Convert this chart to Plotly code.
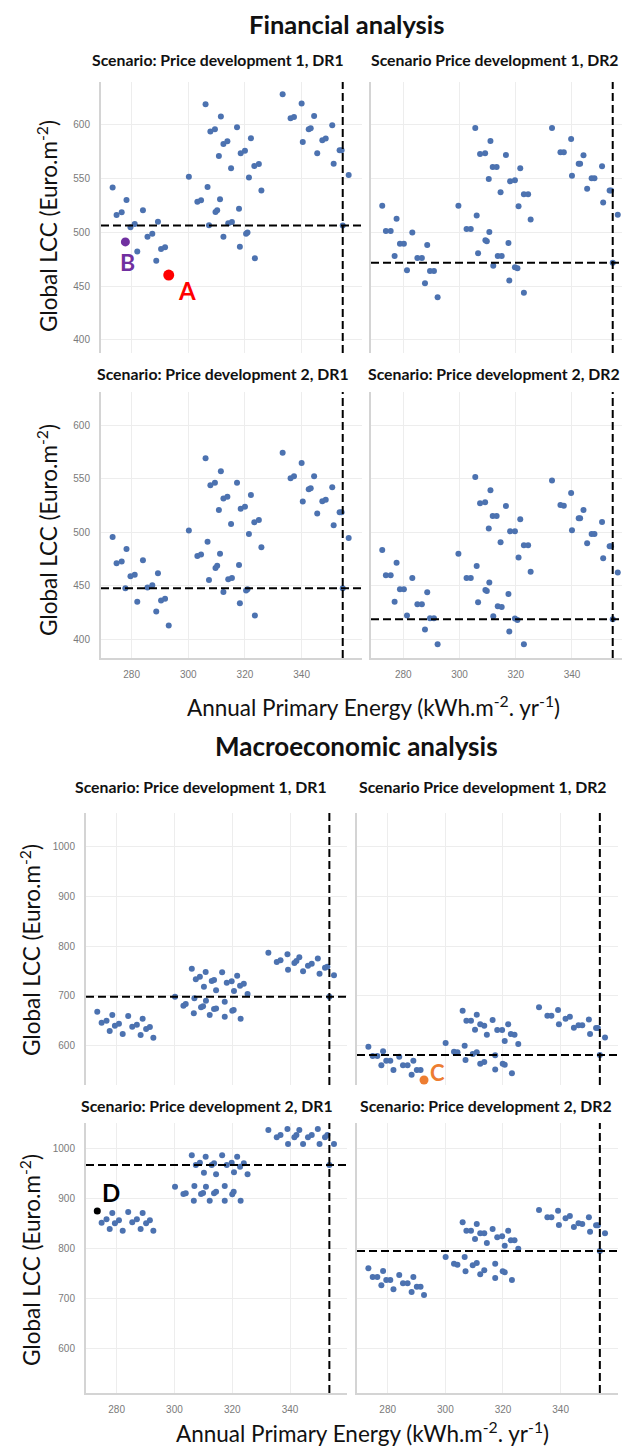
import plotly.graph_objects as go

W, H = 622, 1452

# ---------------- data ----------------
# Financial analysis, discount rate DR1: annual primary energy of each design
fin_energy_dr1 = [
    273.3, 274.7, 276.5, 278.2, 277.8, 279.6, 281.1, 282.0, 284.0, 285.6, 287.3, 288.7, 289.3, 290.4, 291.8, 293.1,
    300.2, 303.2, 304.5, 306.1, 306.8, 307.3, 307.8, 309.4, 309.6, 310.2, 310.8, 311.2, 311.5, 312.4, 312.4, 313.8,
    314.1, 315.1, 315.4, 317.2, 317.9, 318.2, 318.5, 320.0, 320.4, 320.9, 321.4, 322.1, 323.3, 323.5, 324.9, 325.8,
    333.3, 336.1, 337.3, 340.0, 340.4, 342.5, 343.2, 344.4, 345.5, 347.3, 348.5, 350.8, 351.3, 353.4, 354.1, 356.6,
]
fin_lcc_pd1_dr1 = [
    541.7, 516.2, 518.7, 530.2, 491.1, 504.7, 507.8, 482.1, 520.5, 496.0, 498.8, 473.7, 510.0, 484.5, 486.1, 460.3,
    551.9, 528.6, 529.9, 619.2, 542.3, 506.6, 593.8, 596.0, 519.0, 520.5, 571.1, 530.8, 607.8, 496.0, 582.3, 584.8,
    508.4, 559.7, 509.7, 597.8, 522.1, 486.7, 573.6, 576.1, 498.8, 499.8, 551.0, 587.6, 561.8, 475.9, 563.7, 538.9,
    628.6, 606.2, 607.4, 619.9, 584.2, 596.0, 596.9, 608.4, 573.6, 585.7, 587.3, 599.7, 564.0, 576.4, 576.4, 553.4,
]
fin_lcc_pd2_dr1 = [
    495.5, 470.9, 472.5, 484.3, 447.6, 458.8, 460.3, 435.1, 473.7, 448.2, 450.4, 425.8, 461.6, 436.1, 437.9, 412.8,
    501.4, 477.8, 479.0, 568.9, 491.1, 455.4, 543.7, 546.2, 466.6, 468.5, 520.7, 479.9, 556.8, 444.2, 531.3, 533.1,
    456.0, 507.6, 457.2, 546.2, 469.4, 433.6, 521.9, 523.8, 445.4, 446.7, 498.3, 534.7, 509.2, 422.1, 511.4, 485.8,
    574.2, 550.2, 552.1, 564.5, 528.5, 540.0, 540.9, 552.1, 517.3, 528.8, 530.3, 541.8, 506.4, 518.5, 518.5, 494.6,
]

# Financial analysis, discount rate DR2
fin_energy_dr2 = [
    272.5, 273.8, 275.5, 277.6, 276.9, 278.8, 280.2, 281.3, 283.2, 285.0, 286.6, 288.5, 287.7, 289.5, 290.9, 292.2,
    299.6, 302.5, 304.0, 305.6, 306.1, 306.6, 307.3, 309.1, 309.2, 309.7, 310.4, 310.6, 311.0, 311.8, 313.2, 312.0,
    313.6, 315.0, 314.6, 316.5, 317.4, 317.7, 318.0, 319.7, 319.7, 320.6, 321.0, 321.6, 322.9, 324.4, 322.9, 325.3,
    332.9, 335.9, 337.1, 339.7, 340.0, 342.4, 342.9, 344.1, 345.4, 347.0, 348.0, 350.7, 351.1, 353.4, 353.9, 356.3,
]
fin_lcc_pd1_dr2 = [
    524.9, 501.3, 501.3, 512.8, 478.0, 489.5, 489.5, 464.7, 499.8, 476.2, 476.2, 488.3, 452.6, 464.1, 464.1, 439.5,
    524.9, 503.2, 503.2, 597.2, 515.6, 480.5, 573.0, 573.6, 492.6, 491.7, 549.7, 500.4, 585.1, 560.9, 560.9, 469.0,
    478.0, 478.0, 537.3, 572.1, 490.1, 455.1, 547.5, 548.5, 467.5, 466.5, 524.3, 559.7, 535.4, 535.4, 443.9, 511.9,
    597.2, 574.5, 574.5, 587.0, 552.8, 564.0, 564.0, 571.8, 540.7, 550.3, 550.3, 561.5, 527.7, 538.9, 538.9, 516.5,
]
fin_lcc_pd2_dr2 = [
    483.4, 459.7, 459.7, 471.5, 435.1, 446.7, 446.7, 422.1, 457.2, 432.7, 432.7, 443.9, 409.0, 419.6, 419.6, 395.3,
    479.9, 457.2, 457.2, 551.5, 468.4, 434.5, 526.9, 527.8, 446.0, 445.1, 503.3, 452.9, 539.0, 515.1, 515.1, 421.5,
    430.8, 430.2, 490.5, 524.4, 442.3, 407.2, 500.8, 500.8, 419.3, 418.0, 476.2, 512.0, 487.7, 487.7, 395.3, 463.1,
    548.1, 525.3, 524.7, 536.5, 501.7, 512.9, 512.9, 520.7, 489.6, 498.3, 498.3, 509.5, 475.6, 486.8, 486.8, 462.2,
]

# Macroeconomic analysis, discount rate DR1
mac_energy_dr1 = [
    273.3, 274.8, 276.5, 277.6, 278.5, 279.4, 280.8, 282.1, 284.0, 285.4, 287.0, 288.3, 289.0, 290.2, 291.5, 292.7,
    300.2, 303.1, 303.9, 306.0, 306.7, 306.9, 307.4, 308.8, 309.2, 309.9, 310.2, 310.9, 310.8, 312.2, 312.9, 313.7,
    313.7, 314.4, 314.4, 316.5, 317.4, 317.4, 318.1, 319.8, 320.0, 320.5, 320.6, 321.7, 322.7, 322.9, 324.0, 325.3,
    332.5, 335.4, 336.7, 339.1, 339.3, 341.5, 342.2, 343.2, 344.5, 346.2, 347.5, 349.6, 350.2, 352.1, 352.9, 355.2,
]
mac_lcc_pd1_dr1 = [
    668.3, 646.2, 650.2, 629.5, 661.6, 640.2, 644.2, 623.5, 659.6, 638.2, 642.2, 621.4, 654.3, 633.5, 637.5, 616.1,
    698.5, 680.4, 683.8, 754.8, 665.0, 695.2, 733.3, 738.7, 677.1, 679.1, 718.6, 690.5, 748.1, 661.6, 730.0, 732.0,
    673.7, 711.2, 675.0, 747.4, 688.4, 658.3, 726.6, 729.3, 670.4, 671.7, 709.9, 740.7, 720.6, 654.3, 724.6, 703.9,
    786.9, 768.2, 771.5, 783.6, 752.8, 766.2, 770.2, 777.6, 749.4, 760.8, 764.8, 775.5, 744.7, 756.8, 758.8, 741.4,
]
mac_lcc_pd2_dr1 = [
    874.7, 851.3, 858.0, 838.7, 870.7, 850.0, 856.0, 835.3, 872.7, 852.0, 858.0, 838.7, 870.7, 850.0, 856.0, 835.3,
    923.3, 908.7, 910.0, 986.0, 895.3, 924.7, 966.7, 971.3, 908.7, 910.5, 951.3, 923.3, 983.3, 895.3, 966.7, 970.0,
    910.0, 948.0, 913.3, 986.0, 924.7, 895.3, 966.7, 971.3, 908.0, 913.3, 952.0, 983.3, 963.3, 895.3, 970.0, 948.0,
    1036.7, 1022.0, 1026.7, 1038.7, 1008.7, 1022.0, 1026.7, 1036.7, 1008.7, 1022.0, 1026.7, 1038.7, 1008.7, 1022.0, 1026.7, 1008.7,
]

# Macroeconomic analysis, discount rate DR2
mac_energy_dr2 = [
    273.3, 274.8, 276.4, 278.4, 277.8, 279.5, 280.9, 282.0, 284.0, 285.3, 286.9, 288.9, 288.3, 290.1, 291.4, 292.6,
    300.1, 303.0, 304.2, 306.0, 306.7, 307.0, 307.3, 308.9, 309.5, 310.9, 310.3, 312.1, 310.9, 312.1, 313.5,
    313.5, 314.4, 316.4, 317.3, 317.3, 318.0, 319.7, 319.9, 320.6, 320.6, 321.8, 322.7, 323.1, 324.0, 325.3,
    332.5, 335.4, 336.8, 339.1, 339.4, 341.7, 343.2, 344.6, 346.2, 347.5, 349.8, 350.2, 352.3, 352.9, 355.4,
]
mac_lcc_pd1_dr2 = [
    598.0, 579.2, 579.2, 588.6, 560.5, 569.9, 569.9, 551.1, 577.9, 560.5, 560.5, 569.9, 541.7, 551.1, 551.1, 531.0,
    605.4, 587.9, 586.6, 670.4, 600.0, 571.2, 650.3, 650.3, 583.3, 586.6, 632.2, 563.8, 662.4, 642.9, 640.2,
    567.2, 622.1, 651.6, 580.6, 552.4, 631.5, 631.5, 563.8, 561.8, 609.6, 642.9, 623.4, 544.4, 622.1, 603.3,
    677.1, 660.3, 660.3, 671.7, 642.9, 654.3, 658.3, 636.2, 640.9, 640.9, 652.9, 623.4, 635.5, 635.5, 616.7,
]
mac_lcc_pd2_dr2 = [
    760.0, 742.7, 742.7, 754.7, 726.0, 736.7, 736.7, 718.0, 746.7, 730.0, 730.0, 742.7, 712.7, 723.3, 723.3, 706.7,
    782.7, 769.3, 767.3, 852.0, 782.7, 754.0, 835.3, 835.3, 766.0, 770.7, 818.7, 748.0, 848.7, 830.0, 830.0,
    756.0, 810.7, 838.7, 769.3, 740.7, 822.0, 824.0, 754.0, 752.0, 805.3, 835.3, 816.0, 736.7, 816.0, 799.3,
    876.7, 862.0, 862.0, 875.3, 846.7, 860.0, 864.7, 842.7, 850.0, 848.7, 862.0, 833.3, 846.0, 846.0, 830.0,
]

# Reference building (dashed cross-hair) for panels 1..8
ref_energy = [354.5, 354.5, 354.5, 354.5, 353.6, 353.6, 353.6, 353.6]
ref_lcc = [506.3, 471.8, 447.6, 418.7, 698.5, 581.2, 966.7, 794.7]

# Highlighted designs: panel, index into that panel's series, label
highlight_panel = [1, 1, 6, 7]
highlight_index = [15, 4, 15, 0]
highlight_label = ["A", "B", "C", "D"]

panel_titles = [
    "Scenario: Price development 1, DR1", "Scenario Price development 1, DR2",
    "Scenario: Price development 2, DR1", "Scenario: Price development 2, DR2",
    "Scenario: Price development 1, DR1", "Scenario Price development 1, DR2",
    "Scenario: Price development 2, DR1", "Scenario: Price development 2, DR2",
]
fin_yticks = [400, 450, 500, 550, 600]
mac_yticks = [600, 700, 800, 900, 1000]
x_ticks = [280, 300, 320, 340]

section_titles = ["Financial analysis", "Macroeconomic analysis"]
y_title = "Global LCC (Euro.m<sup>-2</sup>)"
x_title = "Annual Primary Energy (kWh.m<sup>-2</sup>. yr<sup>-1</sup>)"

series = [
    (fin_energy_dr1, fin_lcc_pd1_dr1), (fin_energy_dr2, fin_lcc_pd1_dr2),
    (fin_energy_dr1, fin_lcc_pd2_dr1), (fin_energy_dr2, fin_lcc_pd2_dr2),
    (mac_energy_dr1, mac_lcc_pd1_dr1), (mac_energy_dr2, mac_lcc_pd1_dr2),
    (mac_energy_dr1, mac_lcc_pd2_dr1), (mac_energy_dr2, mac_lcc_pd2_dr2),
]

# ---------------- layout of the eight panels (pixel boxes) ----------------
# (left, right, top, bottom), x range, y range, y ticks, show y labels, show x labels, title centre
panel_layout = [
    ((101, 362, 82, 353), [269.2, 361.3], [387.7, 640.0], fin_yticks, True, False, (218, 60)),
    ((371, 622, 82, 353), [268.5, 357.8], [387.7, 640.0], fin_yticks, False, False, (495, 60)),
    ((101, 362, 392, 658), [269.2, 361.3], [382.5, 630.8], fin_yticks, True, True, (223, 373)),
    ((371, 622, 392, 658), [268.5, 357.8], [382.5, 630.8], fin_yticks, False, True, (494, 373)),
    ((86, 347, 813, 1085), [269.4, 359.7], [521.0, 1067.7], mac_yticks, True, False, (201, 787)),
    ((357, 618, 813, 1085), [269.35, 359.9], [521.0, 1067.7], mac_yticks, False, False, (483, 787)),
    ((86, 347, 1123, 1393), [269.4, 359.7], [510.6, 1050.6], mac_yticks, True, True, (207, 1105)),
    ((357, 618, 1123, 1393), [269.35, 359.9], [510.6, 1050.6], mac_yticks, False, True, (486, 1105)),
]

highlight_style = {
    "A": dict(color="#ff0000", size=11, font=24, shift=(18, -15)),
    "B": dict(color="#7030a0", size=9, font=23, shift=(2, -20)),
    "C": dict(color="#ed7d31", size=9, font=22, shift=(13, 8)),
    "D": dict(color="#000000", size=7, font=24, shift=(14, 18)),
}

DOT = "#4c72b0"
TXT = "#111111"
FONT = "Lato, 'Open Sans', sans-serif"


def px_x(p):
    return p / W


def px_y(p):
    return 1 - p / H


def axis_ids(i):
    suffix = "" if i == 1 else str(i)
    return "x" + suffix, "y" + suffix, suffix


fig = go.Figure()
annotations = []
shapes = []
layout_axes = {}

for i, ((x_vals, y_vals), cfg) in enumerate(zip(series, panel_layout), start=1):
    (l, r, t, b), xr, yr, yt, show_y, show_x, (tx, ty) = cfg
    xa, ya, key = axis_ids(i)
    fig.add_trace(go.Scatter(
        x=x_vals, y=y_vals, mode="markers", xaxis=xa, yaxis=ya,
        marker=dict(color=DOT, size=6, line=dict(width=0)), showlegend=False,
        hoverinfo="x+y",
    ))
    # reference building
    fig.add_trace(go.Scatter(
        x=[ref_energy[i - 1]], y=[ref_lcc[i - 1]], mode="markers", xaxis=xa, yaxis=ya,
        marker=dict(color=DOT, size=6), showlegend=False,
    ))
    layout_axes[f"xaxis{key}"] = dict(
        domain=[px_x(l), px_x(r)], range=xr, anchor=ya,
        tickvals=x_ticks, showticklabels=show_x, ticks="",
        tickfont=dict(family="Liberation Sans, Arial", size=10, color="#7a7a7a"),
        ticklabelstandoff=6,
        showgrid=True, gridcolor="#ededed", gridwidth=1, zeroline=False,
        showline=show_x, linecolor="#d4d4d4", linewidth=2,
    )
    layout_axes[f"yaxis{key}"] = dict(
        domain=[px_y(b), px_y(t)], range=yr, anchor=xa,
        tickvals=yt, showticklabels=show_y, ticks="",
        tickfont=dict(family="Liberation Sans, Arial", size=10, color="#7a7a7a"),
        ticklabelstandoff=7,
        showgrid=True, gridcolor="#ededed", gridwidth=1, zeroline=False,
        showline=True, linecolor="#d4d4d4", linewidth=2,
    )
    # dashed cross-hair through the reference building
    dash_line = dict(color="black", width=2, dash="8px,4px")
    shapes.append(dict(type="line", xref=xa, yref=f"{ya} domain",
                       x0=ref_energy[i - 1], x1=ref_energy[i - 1], y0=0, y1=1, line=dash_line))
    shapes.append(dict(type="line", xref=f"{xa} domain", yref=ya,
                       x0=0, x1=1, y0=ref_lcc[i - 1], y1=ref_lcc[i - 1], line=dash_line))
    annotations.append(dict(
        text=f"<b>{panel_titles[i - 1]}</b>", xref="paper", yref="paper",
        x=px_x(tx), y=px_y(ty), xanchor="center", yanchor="middle", showarrow=False,
        font=dict(family=FONT, size=15.8, color=TXT),
    ))

# highlighted designs, drawn from the series values
for p, idx, lab in zip(highlight_panel, highlight_index, highlight_label):
    x_vals, y_vals = series[p - 1]
    xa, ya, _ = axis_ids(p)
    st = highlight_style[lab]
    fig.add_trace(go.Scatter(
        x=[x_vals[idx]], y=[y_vals[idx]], mode="markers", xaxis=xa, yaxis=ya,
        marker=dict(color=st["color"], size=st["size"]), showlegend=False,
    ))
    annotations.append(dict(
        text=f"<b>{lab}</b>", xref=xa, yref=ya, x=x_vals[idx], y=y_vals[idx],
        xshift=st["shift"][0], yshift=st["shift"][1], showarrow=False,
        xanchor="center", yanchor="middle",
        font=dict(family=FONT, size=st["font"], color=st["color"]),
    ))

# section titles
for text, size, (cx, cy) in zip(section_titles, [25.5, 26], [(347, 24), (356, 746)]):
    annotations.append(dict(
        text=f"<b>{text}</b>", xref="paper", yref="paper", x=px_x(cx), y=px_y(cy),
        xanchor="center", yanchor="middle", showarrow=False,
        font=dict(family=FONT, size=size, color=TXT),
    ))

# axis titles
for cx, cy in [(47, 226), (47, 530), (30, 950), (30, 1260)]:
    annotations.append(dict(
        text=y_title, xref="paper", yref="paper", x=px_x(cx), y=px_y(cy),
        xanchor="center", yanchor="middle", textangle=-90, showarrow=False,
        font=dict(family=FONT, size=22.5, color=TXT),
    ))
for cx, cy in [(373, 706), (362, 1432)]:
    annotations.append(dict(
        text=x_title, xref="paper", yref="paper", x=px_x(cx), y=px_y(cy),
        xanchor="center", yanchor="middle", showarrow=False,
        font=dict(family=FONT, size=22.5, color=TXT),
    ))

fig.update_layout(
    width=W, height=H, margin=dict(l=0, r=0, t=0, b=0),
    paper_bgcolor="white", plot_bgcolor="white",
    annotations=annotations, shapes=shapes, **layout_axes,
)

fig.write_html("out.html")
